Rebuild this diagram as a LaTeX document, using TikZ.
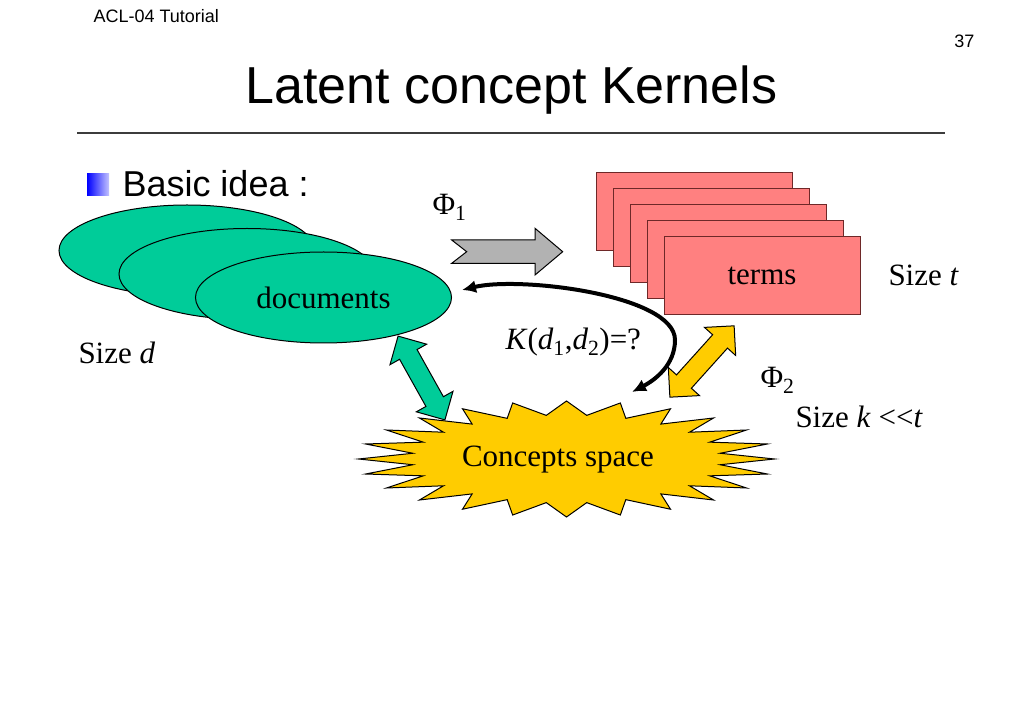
\documentclass[tikz,border=0pt]{standalone}
\usepackage{fontspec}
\setmainfont{Liberation Serif}
\newfontfamily\arialfont{Liberation Sans}
\usepackage{tikz}
\usetikzlibrary{arrows,arrows.meta,shapes.geometric,shapes.arrows}

\definecolor{docgreen}{RGB}{0,204,153}
\definecolor{termpink}{RGB}{255,128,128}
\definecolor{termline}{RGB}{110,40,40}
\definecolor{burstyellow}{RGB}{255,204,0}
\definecolor{phigray}{RGB}{178,178,178}
\definecolor{rulegray}{RGB}{60,60,60}
\definecolor{bulletlight}{RGB}{195,195,255}

\newcommand{\bodysize}{\fontsize{31}{31}\selectfont}

\begin{document}
\begin{tikzpicture}[x=1pt,y=-1pt,line width=1pt]

\tikzset{docs/.style = {shape=ellipse,draw,fill=docgreen,minimum width=256pt,minimum height=91pt,inner sep=0pt}}
\tikzset{termbox/.style = {shape=rectangle,draw=termline,fill=termpink,minimum width=196pt,minimum height=78pt}}
\tikzset{fatarrow/.style = {shape=double arrow,draw,inner xsep=0pt,inner ysep=9.5pt,double arrow head extend=11pt,minimum height=96pt}}
\tikzset{kedge/.style = {<->,> = {Latex[length=14pt,width=13pt]},line width=4pt}}
\tikzset{txt/.style = {font=\bodysize,inner sep=0pt}}

\fill[white] (0,0) rectangle (1023,708);
\useasboundingbox (0,0) rectangle (1023,708);

% header
\node[font=\arialfont\fontsize{18}{18}\selectfont,anchor=base west,inner sep=0pt] (tutorial) at (93,23) {ACL-04 Tutorial};
\node[font=\arialfont\fontsize{18}{18}\selectfont,anchor=base east,inner sep=0pt] (page) at (975,48) {37};
\node[font=\arialfont\fontsize{52}{52}\selectfont,anchor=base,inner sep=0pt] (title) at (511.5,104) {Latent concept Kernels};
\draw[rulegray,line width=1.5pt] (77,133) -- (945,133);

% bullet
\shade[left color=blue,right color=bulletlight] (87,174) rectangle (109,196);
\node[font=\arialfont\fontsize{36}{36}\selectfont,anchor=base west,inner sep=0pt] (idea) at (122,197) {Basic idea :};

% documents
\node[docs] (doc1) at (187,250.5) {};
\node[docs] (doc2) at (247,274) {};
\node[docs,txt] (doc3) at (323.5,297.5) {documents};
\node[txt,anchor=base west] (sized) at (78,364) {Size \textit{d}};

% terms
\node[termbox] (term1) at (694,212) {};
\node[termbox] (term2) at (711,228) {};
\node[termbox] (term3) at (728,244) {};
\node[termbox] (term4) at (745,260) {};
\node[termbox,txt] (term5) at (762,276) {terms};
\node[txt,anchor=base west] (sizet) at (888,286) {Size \textit{t}};

% phi 1
\draw[fill=phigray] (451.7,240) -- (535,240) -- (535,228.3) -- (562.7,251.7) -- (535,275)
  -- (535,263.3) -- (451.7,263.3) -- (466.7,251.7) -- cycle;
\node[txt,anchor=base west] (phi1) at (432,215) {Φ\textsubscript{1}};

% concepts space
\begin{scope}[shift={(566.5,459)}]
\draw[fill=burstyellow] (180:208 and 58)
  \foreach \a in {0,...,23} {-- ({187.5+15*\a}:155 and 44) -- ({195+15*\a}:208 and 58)} -- cycle;
\end{scope}
\node[txt,anchor=base] (concepts) at (558,467) {Concepts space};

% mappings
\node[fatarrow,fill=docgreen,rotate=-60.8] (docmap) at (421.5,378) {};
\node[fatarrow,fill=burstyellow,rotate=48] (termmap) at (702,361.5) {};
\node[txt,anchor=base west] (phi2) at (760,388) {Φ\textsubscript{2}};
\node[txt,anchor=base west] (sizek) at (795,428) {Size \textit{k} <\kern0pt<\textit{t}};

% kernel
\coordinate (kdoc) at (462,290);
\coordinate (kcon) at (632,392);
\draw[kedge] (kdoc) .. controls (520,276) and (675,295) .. (675,340)
  .. controls (675,365) and (655,380) .. (kcon);
\node[txt,anchor=base west] (kernel) at (505,350) {\textit{K}(\textit{d}\textsubscript{1},\textit{d}\textsubscript{2})=?};

\end{tikzpicture}
\end{document}
